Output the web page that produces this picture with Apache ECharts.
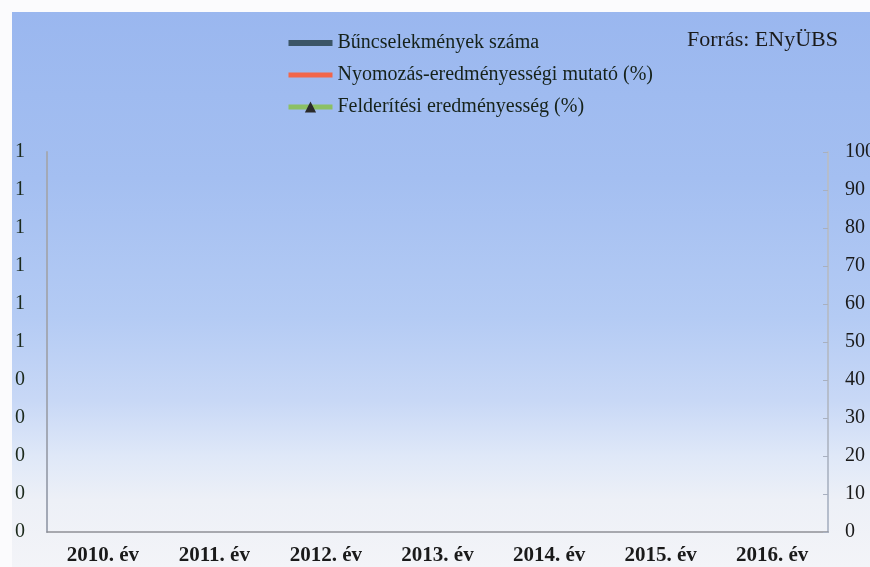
<!DOCTYPE html>
<html>
<head>
<meta charset="utf-8">
<script src="https://cdn.jsdelivr.net/npm/echarts@6/dist/echarts.min.js"></script>
<style>
html,body{margin:0;padding:0;background:#fbfbfd;}
#c{width:870px;height:567px;}
</style>
</head>
<body>
<div id="c"></div>
<script>
// Categories (years)
var categories = ['2010. év','2011. év','2012. év','2013. év','2014. év','2015. év','2016. év'];
// Series values: no marks are visible in the reference picture
var crimeCount = [];
var investigationRate = [];
var detectionRate = [];
// Tick labels (left axis labels are cut off at the picture's left edge)
var leftTickLabels = ['0','0','0','0','0','1','1','1','1','1','1'];
var rightTickLabels = ['0','10','20','30','40','50','60','70','80','90','100'];
var seriesNames = ['Bűncselekmények száma','Nyomozás-eredményességi mutató (%)','Felderítési eredményesség (%)'];
var sourceText = 'Forrás: ENyÜBS';

var chart = echarts.init(document.getElementById('c'));
var serif = '"Liberation Serif","DejaVu Serif",serif';
chart.setOption({
  backgroundColor: '#fbfbfd',
  animation: false,
  graphic: [
    {
      type: 'rect', left: 12, top: 12, z: -10, silent: true,
      shape: {width: 858, height: 555},
      style: {
        fill: new echarts.graphic.LinearGradient(0, 0, 0, 1, [
          {offset: 0, color: '#9ab7ef'},
          {offset: 0.3, color: '#a4bff1'},
          {offset: 0.55, color: '#b4cbf4'},
          {offset: 0.7, color: '#c8d8f6'},
          {offset: 0.8, color: '#dfe8f8'},
          {offset: 0.88, color: '#edf0f7'},
          {offset: 1, color: '#f3f4f8'}
        ])
      }
    },
    {
      type: 'text', left: 687, top: 29,
      style: {text: sourceText, font: '22px ' + serif, fill: '#1a1a1a'}
    }
  ],
  legend: {
    orient: 'vertical',
    left: 281, top: 28,
    itemWidth: 44, itemHeight: 14, itemGap: 12,
    textStyle: {fontFamily: serif, fontSize: 20, color: '#16221a'},
    data: [
      {name: seriesNames[0], icon: 'path://M0,0H44V6H0Z'},
      {name: seriesNames[1], icon: 'path://M0,0H44V5H0Z'},
      {name: seriesNames[2], lineStyle: {width: 5}}
    ]
  },
  grid: {left: 47, right: 42, top: 152, bottom: 35, outerBoundsMode: 'none', containLabel: false},
  xAxis: {
    type: 'category',
    data: categories,
    boundaryGap: true,
    axisLine: {lineStyle: {color: '#8e9097', width: 1.5}},
    axisTick: {show: false},
    axisLabel: {fontFamily: serif, fontWeight: 'bold', fontSize: 21, color: '#1a1a1a', margin: 13}
  },
  yAxis: [
    {
      type: 'value', min: 0, max: 10, interval: 1, position: 'left',
      splitLine: {show: false},
      axisLine: {show: true, lineStyle: {color: '#a3a9b6', width: 2}},
      axisTick: {show: false},
      axisLabel: {
        fontFamily: serif, fontSize: 20, color: '#1c2a1c', margin: 22,
        formatter: function (v, i) { return leftTickLabels[i]; }
      }
    },
    {
      type: 'value', min: 0, max: 100, interval: 10, position: 'right',
      splitLine: {show: false},
      axisLine: {show: true, lineStyle: {color: '#b5bdcc', width: 2}},
      axisTick: {show: true, inside: true, length: 5, lineStyle: {color: '#a8b0c0'}},
      axisLabel: {
        fontFamily: serif, fontSize: 20, color: '#1a1a1a', margin: 17,
        formatter: function (v, i) { return rightTickLabels[i]; }
      }
    }
  ],
  series: [
    {name: seriesNames[0], type: 'bar', yAxisIndex: 0, data: crimeCount,
     itemStyle: {color: '#3b5567'}},
    {name: seriesNames[1], type: 'line', yAxisIndex: 1, data: investigationRate,
     symbol: 'none',
     itemStyle: {color: '#f2664a'}, lineStyle: {color: '#f2664a', width: 4}},
    {name: seriesNames[2], type: 'line', yAxisIndex: 1, data: detectionRate,
     symbol: 'triangle', symbolSize: 9,
     itemStyle: {color: '#2a2a2a'}, lineStyle: {color: '#8cc063', width: 5}}
  ]
});
</script>
</body>
</html>
